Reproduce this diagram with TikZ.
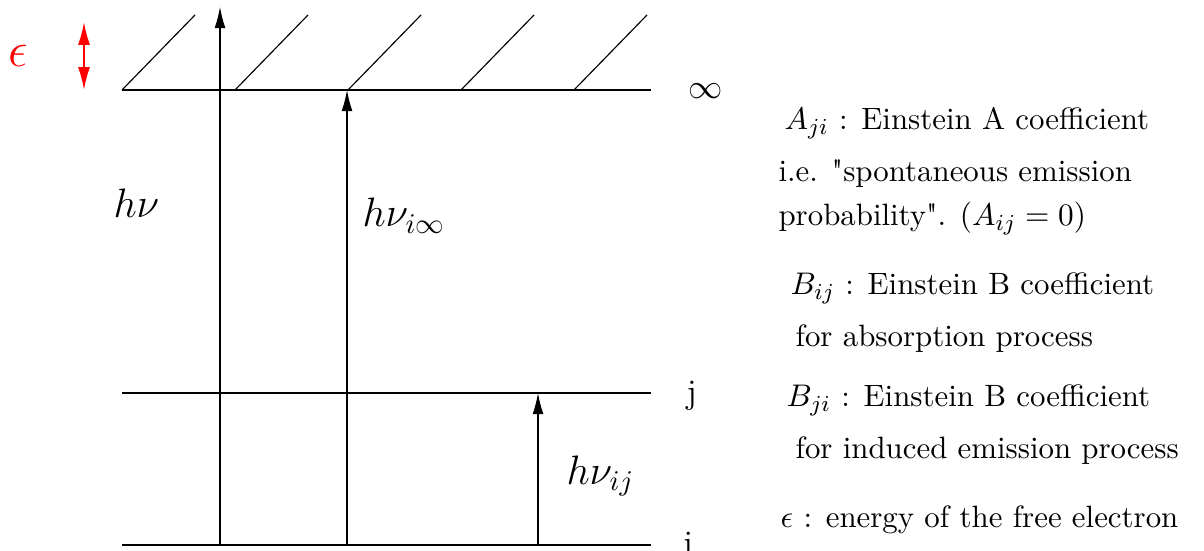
\documentclass[tikz,border=0pt]{standalone}
\usetikzlibrary{arrows.meta}
\begin{document}
\begin{tikzpicture}[x=0.35pt,y=-0.35pt,
  level/.style={line width=0.45pt},
  hatch/.style={line width=0.4pt},
  photon/.style={line width=0.4pt,-{Latex[length=7.4pt,width=3.8pt]}},
  eps/.style={red,line width=0.6pt,{Latex[length=8pt,width=4.2pt]}-{Latex[length=8pt,width=4.2pt]}},
  lbl/.style={anchor=base west,inner sep=0pt,font=\Large},
  txt/.style={anchor=base west,inner sep=0pt,font=\fontsize{10.8}{13}\selectfont}]
\useasboundingbox (0,0) rectangle (1204,551);
% level end points
\coordinate (infL) at (122,90);  \coordinate (infR) at (651,90);
\coordinate (jL) at (122,393);   \coordinate (jR) at (651,393);
\coordinate (iL) at (122,545);   \coordinate (iR) at (651,545);
\draw[level] (infL) -- (infR);
\draw[level] (jL) -- (jR);
\draw[level] (iL) -- (iR);
% hatching above infinity
\foreach \k/\x in {1/122,2/235,3/348,4/461,5/574}{
  \coordinate (hb\k) at (\x,90);
  \coordinate (ht\k) at (\x+73,15);
  \draw[hatch] (hb\k) -- (ht\k);
}
% photon arrows
\coordinate (a1s) at (220,545); \coordinate (a1e) at (220,7);
\coordinate (a2s) at (347,545); \coordinate (a2e) at (347,90);
\coordinate (a3s) at (538,545); \coordinate (a3e) at (538,393);
\draw[photon] (a1s) -- (a1e);
\draw[photon] (a2s) -- (a2e);
\draw[photon] (a3s) -- (a3e);
% epsilon range
\coordinate (e1) at (84,22); \coordinate (e2) at (84,90);
\draw[eps] (e1) -- (e2);
\node[anchor=base west,inner sep=0pt,red,font=\LARGE] (epsl) at (8,67) {$\epsilon$};
% labels
\node[lbl] (hnu) at (113,218) {$h\nu$};
\node[lbl] (hnuinf) at (362,227) {$h\nu_{i\infty}$};
\node[lbl] (hnuij) at (566,484) {$h\nu_{ij}$};
\node[anchor=base west,inner sep=0pt,font=\large] (linf) at (688,99) {$\infty$};
\node[anchor=base west,inner sep=0pt,font=\large] (lj) at (686,404) {j};
\node[anchor=base west,inner sep=0pt,font=\large] (li) at (683,554) {i};
% legend
\node[txt] (t1) at (784,130) {$A_{ji}$ : Einstein A coefficient};
\node[txt] (t2) at (778,182) {i.e. \textquotedbl spontaneous emission};
\node[txt] (t3) at (778,226) {probability\textquotedbl. $(A_{ij}=0)$};
\node[txt] (t4) at (790,295) {$B_{ij}$ : Einstein B coefficient};
\node[txt] (t5) at (795,347) {for absorption process};
\node[txt] (t6) at (786,407) {$B_{ji}$ : Einstein B coefficient};
\node[txt] (t7) at (795,458) {for induced emission process};
\node[txt] (t8) at (780,527) {$\epsilon$ : energy of the free electron};
\end{tikzpicture}
\end{document}
